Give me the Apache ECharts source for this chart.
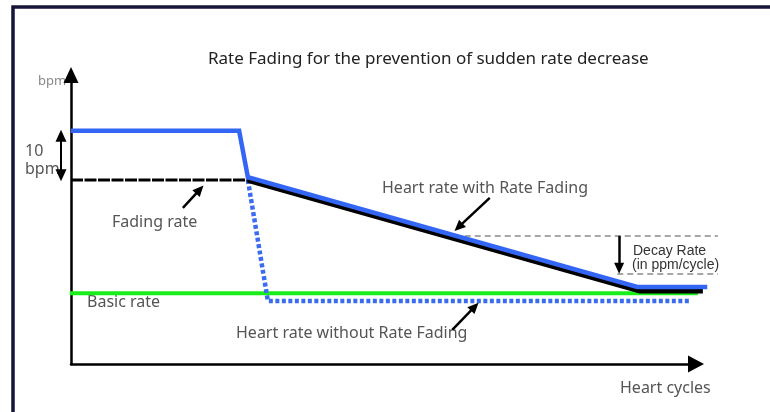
<!DOCTYPE html>
<html>
<head>
<meta charset="utf-8">
<script src="https://cdn.jsdelivr.net/npm/echarts@6/dist/echarts.min.js"></script>
<style>
  html, body { margin: 0; padding: 0; background: #fff; }
  #chart { width: 770px; height: 412px; }
</style>
</head>
<body>
<div id="chart"></div>
<script>
// x = heart cycles (0..100 along the drawn axis), y = bpm (0..60)
const withFading = [[0, 48.4], [26.9, 48.4], [28.3, 38.8], [90.6, 16.0], [101.8, 16.0]]
const fadingRate = [[0, 38.2], [28.3, 38.2]]
const fadingDecay = [[28.3, 38.2], [91.0, 15.2], [101.1, 15.2]]
const basicRate = [[-0.2, 14.7], [100.3, 14.7]]
const withoutFading = [[28.3, 38.2], [31.5, 13.1], [99.0, 13.1]]
const decayTop = [[61.4, 26.6], [103.5, 26.6]]
const decayBottom = [[87.4, 18.7], [103.5, 18.7]]
const stepMarker = [[-1.6, 47.4], [-1.6, 39.2]]

// annotation arrows: [from, to]
const arrows = [
  [[17.9, 32.4], [20.6, 36.2]],   // Fading rate
  [[67.0, 34.5], [62.0, 28.4]],   // Heart rate with Rate Fading
  [[61.0, 7.1], [64.6, 11.9]],    // Heart rate without Rate Fading
  [[87.7, 26.6], [87.7, 19.9]]    // Decay Rate
]

const gray = '#555'
const font = '16px "Noto Sans"'

function lineSeries(data, color, width, type, z) {
  return {
    type: 'line',
    data,
    xAxisIndex: 0,
    yAxisIndex: 0,
    symbol: 'none',
    silent: true,
    z,
    lineStyle: { color, width, type, cap: 'butt', join: 'miter' }
  }
}

function label(text, x, y, extra) {
  return {
    type: 'text',
    x,
    y,
    silent: true,
    style: Object.assign({ text, font, fill: gray, verticalAlign: 'middle' }, extra || {})
  }
}

function hiddenAxis(gridIndex, min, max) {
  return {
    type: 'value', gridIndex, min, max,
    axisLine: { show: false }, axisTick: { show: false },
    axisLabel: { show: false }, splitLine: { show: false }
  }
}

function arrowAxis(gridIndex, min, max, size) {
  return {
    type: 'value', gridIndex, min, max,
    axisLine: {
      show: true,
      symbol: ['none', 'triangle'],
      symbolSize: size,
      lineStyle: { color: '#000', width: 2.5 }
    },
    axisTick: { show: false },
    axisLabel: { show: false },
    splitLine: { show: false }
  }
}

const chart = echarts.init(document.getElementById('chart'))

chart.setOption({
  animation: false,
  title: {
    text: 'Rate Fading for the prevention of sudden rate decrease',
    left: 203,
    top: 46,
    textStyle: { fontFamily: 'Noto Sans', fontSize: 17, fontWeight: 'normal', color: '#222' }
  },
  // grid 0 holds the data (a bit wider than the axes), grid 1 draws the arrow axes
  grid: [
    { left: 58.5, right: 49, top: 75, bottom: 48 },
    { left: 71, right: 74, top: 75, bottom: 48 }
  ],
  xAxis: [hiddenAxis(0, -2, 104), arrowAxis(1, 0, 100, [17, 16])],
  yAxis: [hiddenAxis(0, 0, 60), arrowAxis(1, 0, 60, [15, 16])],
  series: [
    lineSeries(decayTop, '#8a8a8a', 1.5, [6, 4], 1),
    lineSeries(decayBottom, '#8a8a8a', 1.5, [6, 4], 1),
    lineSeries(basicRate, '#1aee1a', 4, 'solid', 2),
    lineSeries(withoutFading, '#3a6cf0', 4.5, [4, 2.5], 3),
    lineSeries(fadingRate, '#000', 3, [12, 1.5], 4),
    lineSeries(fadingDecay, '#000', 5.5, 'solid', 4),
    lineSeries(withFading, '#3366f5', 4.5, 'solid', 5),
    {
      type: 'line',
      xAxisIndex: 0,
      yAxisIndex: 0,
      data: [
        { value: stepMarker[0], symbol: 'triangle', symbolSize: [11, 12], symbolRotate: 0 },
        { value: stepMarker[1], symbol: 'triangle', symbolSize: [11, 12], symbolRotate: 180 }
      ],
      silent: true,
      z: 6,
      itemStyle: { color: '#000' },
      lineStyle: { color: '#000', width: 2 }
    },
    {
      type: 'line',
      xAxisIndex: 0,
      yAxisIndex: 0,
      data: [],
      silent: true,
      z: 6,
      markLine: {
        silent: true,
        symbol: ['none', 'triangle'],
        symbolSize: [10, 11],
        label: { show: false },
        lineStyle: { color: '#000', width: 2.5, type: 'solid' },
        itemStyle: { color: '#000' },
        data: arrows.map(([a, b]) => [{ coord: a }, { coord: b }])
      }
    }
  ],
  graphic: [
    {
      type: 'rect',
      silent: true,
      shape: { x: 13, y: 7, width: 900, height: 600 },
      style: { fill: 'none', stroke: '#15153a', lineWidth: 3.5 }
    },
    label('bpm', 38, 81, { font: '13px "Noto Sans"', fill: '#888' }),
    label('10', 25, 151),
    label('bpm', 25, 169),
    label('Fading rate', 112, 222),
    label('Heart rate with Rate Fading', 382, 188),
    label('Basic rate', 87, 302),
    label('Heart rate without Rate Fading', 236, 333),
    label('Decay Rate', 633, 251, { font: '14px "Liberation Sans"', fill: '#333' }),
    label('(in ppm/cycle)', 632, 265, { font: '14px "Liberation Sans"', fill: '#333' }),
    label('Heart cycles', 620, 388)
  ]
})
</script>
</body>
</html>
